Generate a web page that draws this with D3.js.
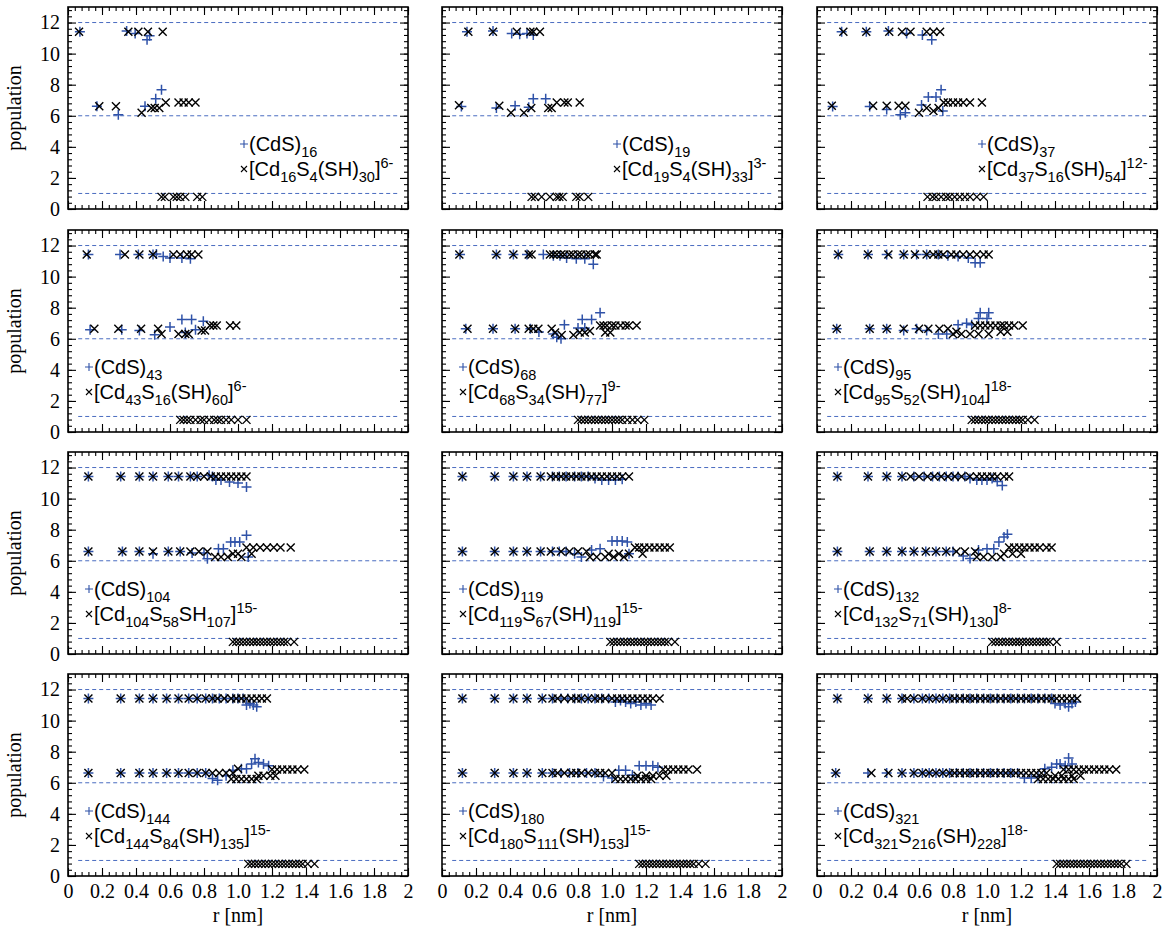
<!DOCTYPE html>
<html><head><meta charset="utf-8">
<script src="https://cdn.jsdelivr.net/npm/d3@7"></script>
<style>body{margin:0;background:#fff}</style>
</head><body>
<svg id="c" width="1170" height="933"></svg>
<script>
// ---------- data ----------
const clusterSizes = [16,19,37,43,68,95,104,119,132,144,180,321];
const ligandCd = [16,19,37,43,68,95,104,119,132,144,180,321];
const ligandS = [4,4,16,16,34,52,58,67,71,84,111,216];
const ligandSH = [30,33,54,60,77,104,107,119,130,135,153,228];
const ligandCharge = ["6-","3-","12-","6-","9-","18-","15-","15-","8-","15-","15-","18-"];
const ligandParen = [true,true,true,true,true,true,false,true,true,true,true,true];
const xTicks = [0,0.2,0.4,0.6,0.8,1.0,1.2,1.4,1.6,1.8,2];
const xTickLabels = ["0","0.2","0.4","0.6","0.8","1.0","1.2","1.4","1.6","1.8","2"];
const yTicks = [0,2,4,6,8,10,12];
const yTickLabels = ["0","2","4","6","8","10","12"];
const refLevels = [1,6,12];

// each group: [y, x1, x2, ...]
const plus16 = [[11.4,0.07],[11.45,0.345],[11.3,0.395],[10.9,0.465],[11.15,0.48],[6.62,0.17,0.453],[6.06,0.296],[7.1,0.516],[7.68,0.55]];
const cross16 = [[11.4,0.065,0.355,0.414,0.47,0.557],[6.62,0.184,0.282],[6.2,0.433],[6.5,0.49,0.51,0.537],[6.86,0.575,0.65,0.68,0.71,0.75],[0.78,0.55,0.57,0.62,0.64,0.66,0.69,0.76,0.79]];
const plus19 = [[11.4,0.147],[11.45,0.30],[11.3,0.41,0.5],[11.25,0.457],[11.2,0.537],[6.6,0.114],[6.5,0.32],[6.65,0.43],[6.55,0.51],[7.1,0.537,0.61]];
const cross19 = [[11.4,0.155,0.30,0.44,0.52,0.537,0.576],[6.67,0.1],[6.65,0.337],[6.2,0.406,0.482],[6.5,0.525,0.625,0.645],[6.86,0.675,0.72,0.74,0.81],[0.78,0.527,0.547,0.586,0.635,0.675,0.69,0.71,0.79,0.81,0.86]];
const plus37 = [[11.4,0.145,0.29],[11.45,0.42],[11.3,0.527],[11.2,0.62],[10.9,0.675],[6.6,0.092,0.31],[6.4,0.41],[6.06,0.49],[6.2,0.52],[6.7,0.615],[7.2,0.655,0.7],[7.68,0.73],[6.3,0.74]];
const cross37 = [[11.4,0.155,0.29,0.425,0.5,0.55,0.645,0.685,0.724],[6.65,0.087,0.33,0.41,0.48,0.52],[6.2,0.6],[6.5,0.645,0.715],[6.3,0.685],[6.86,0.745,0.77,0.8,0.83,0.86,0.9,0.97],[0.78,0.65,0.68,0.70,0.73,0.76,0.78,0.81,0.84,0.87,0.9,0.94,0.98]];
const plus43 = [[11.42,0.12,0.306,0.414,0.5],[11.46,0.52],[11.3,0.56],[11.2,0.6,0.67],[11.15,0.72],[6.58,0.13,0.316,0.75],[6.53,0.42],[6.26,0.51],[6.75,0.6],[7.24,0.67,0.727],[7.13,0.796],[6.4,0.69]];
const cross43 = [[11.42,0.11,0.335,0.42,0.5,0.62,0.66,0.7,0.727,0.767],[6.64,0.155,0.296,0.43,0.53],[6.3,0.55,0.65,0.69,0.71],[6.53,0.786,0.806],[6.86,0.835,0.855,0.875,0.953,0.99],[0.78,0.66,0.68,0.7,0.72,0.75,0.78,0.8,0.83,0.86,0.88,0.9,0.93,0.96,1.0,1.05]];
const plus68 = [[11.42,0.106,0.32,0.42,0.5,0.596],[11.35,0.655,0.694],[11.2,0.733],[11.15,0.79,0.84],[10.8,0.89],[6.64,0.14,0.3,0.43,0.52],[6.43,0.57],[6.3,0.655],[6.1,0.675],[6.0,0.7],[6.9,0.72],[6.7,0.8,0.84],[7.24,0.825,0.88],[7.67,0.93]];
const cross68 = [[11.42,0.102,0.32,0.42,0.51,0.527,0.635,0.655,0.675,0.7,0.72,0.75,0.77,0.8,0.82,0.85,0.87,0.9,0.91],[6.64,0.15,0.3,0.43,0.51,0.537,0.567,0.645],[6.4,0.665,0.81,0.84,0.96,0.99],[6.25,0.704,0.773],[6.5,0.87],[6.86,0.93,0.95,0.97,1.0,1.02,1.05,1.08,1.1,1.145],[0.78,0.8,0.82,0.84,0.86,0.88,0.9,0.92,0.94,0.96,0.98,1.0,1.02,1.04,1.06,1.09,1.12,1.15,1.19]];
const plus95 = [[11.42,0.125,0.3,0.41,0.51,0.586,0.645,0.714],[11.35,0.77],[11.3,0.83],[11.2,0.89],[10.9,0.93,0.96],[6.64,0.116,0.31,0.41,0.586],[6.53,0.51,0.645],[6.3,0.714,0.763],[6.9,0.83,0.91],[7.0,0.88],[7.67,0.96,1.01],[7.3,0.95,1.0]];
const cross95 = [[11.42,0.125,0.3,0.42,0.51,0.576,0.645,0.684,0.714,0.743,0.79,0.82,0.86,0.9,0.94,0.98,1.01],[6.64,0.116,0.31,0.41,0.51,0.6,0.655,0.72,0.77],[6.45,0.82,1.08,1.12],[6.3,0.8,0.85,0.9,0.95,1.01],[6.86,0.93,0.96,0.99,1.02,1.05,1.08,1.1,1.13,1.16,1.21],[0.78,0.91,0.93,0.95,0.97,0.99,1.01,1.03,1.05,1.07,1.09,1.11,1.13,1.15,1.17,1.19,1.21,1.24,1.28]];
const plus104 = [[11.42,0.12,0.31,0.42,0.5,0.59,0.65,0.72,0.76,0.85],[11.5,0.83],[11.2,0.87,0.9],[11.07,0.95],[11.0,1.0],[10.75,1.05],[6.6,0.12,0.32,0.42,0.59,0.66],[6.45,0.5],[6.5,0.73,0.8],[6.13,0.82],[6.78,0.885,0.914],[7.2,0.957,0.982,1.01],[7.64,1.05],[6.25,1.06]];
const cross104 = [[11.42,0.12,0.31,0.42,0.5,0.59,0.65,0.72,0.76,0.8,0.84,0.87,0.9,0.93,0.96,0.99,1.02,1.05],[6.6,0.12,0.32,0.42,0.5,0.59,0.66,0.72,0.77,0.82],[6.25,0.865,0.9,0.94,1.02],[6.45,0.97,1.0,1.08],[6.86,1.05,1.09,1.13,1.17,1.21,1.25,1.31],[0.78,0.97,0.99,1.01,1.03,1.05,1.07,1.09,1.11,1.13,1.15,1.17,1.19,1.21,1.23,1.25,1.27,1.29,1.33]];
const plus119 = [[11.42,0.12,0.31,0.42,0.5,0.58,0.65,0.69,0.73,0.78,0.82,0.86],[11.3,0.9],[11.2,0.94,0.98,1.02],[11.25,1.06],[6.6,0.12,0.31,0.42,0.5,0.58,0.65,0.69,0.73],[6.45,0.78,1.1],[6.25,0.82],[6.7,0.88],[6.78,0.93],[7.27,1.0,1.03,1.06],[7.2,1.09]];
const cross119 = [[11.42,0.12,0.31,0.42,0.5,0.58,0.64,0.67,0.7,0.73,0.76,0.79,0.82,0.85,0.88,0.91,0.94,0.97,1.0,1.03,1.06,1.1],[6.6,0.12,0.31,0.42,0.5,0.58,0.64,0.7,0.75,0.8,0.85],[6.25,0.87,0.91,0.96,1.01,1.07],[6.45,0.98,1.04,1.1,1.18],[6.86,1.135,1.16,1.19,1.22,1.25,1.28,1.31,1.34],[0.78,0.99,1.01,1.03,1.05,1.07,1.09,1.11,1.13,1.15,1.17,1.19,1.21,1.23,1.25,1.27,1.29,1.31,1.33,1.37]];
const plus132 = [[11.42,0.12,0.3,0.41,0.5,0.57,0.63,0.68,0.72,0.76,0.8,0.83,0.87],[11.3,0.9,1.03],[11.2,0.94,0.97,1.0],[11.1,1.06],[10.85,1.09],[6.6,0.12,0.31,0.41,0.5,0.57,0.64,0.7,0.76,0.8],[6.3,0.86],[6.14,0.9],[6.7,0.95],[6.78,1.0,1.04],[7.2,1.07],[7.53,1.1],[7.7,1.12]];
const cross132 = [[11.42,0.12,0.3,0.41,0.5,0.55,0.6,0.65,0.69,0.73,0.77,0.81,0.85,0.9,0.94,0.97,1.0,1.03,1.06,1.1,1.13],[6.6,0.12,0.31,0.41,0.5,0.57,0.64,0.7,0.76,0.82,0.87,0.93],[6.25,0.94,0.98,1.03,1.08],[6.45,1.1,1.15,1.2],[6.86,1.13,1.16,1.19,1.22,1.25,1.28,1.31,1.35,1.38],[0.78,1.03,1.05,1.07,1.09,1.11,1.13,1.15,1.17,1.19,1.21,1.23,1.25,1.27,1.29,1.31,1.33,1.35,1.37,1.41]];
const plus144 = [[11.42,0.12,0.31,0.42,0.5,0.58,0.65,0.71,0.76,0.81,0.85,0.89,0.93,0.97,1.0,1.03],[11.0,1.05,1.09],[11.1,1.07],[10.9,1.11],[6.63,0.12,0.31,0.42,0.5,0.58,0.65,0.71,0.76,0.81],[6.27,0.85],[6.16,0.88],[6.45,0.93],[6.8,0.97],[6.9,1.02,1.05],[7.2,1.08,1.15],[7.55,1.1],[7.3,1.12],[7.1,1.18]];
const cross144 = [[11.42,0.12,0.31,0.42,0.5,0.58,0.65,0.71,0.76,0.81,0.85,0.88,0.92,0.96,0.99,1.02,1.05,1.08,1.11,1.14,1.17],[6.63,0.12,0.31,0.42,0.5,0.58,0.65,0.71,0.76,0.81,0.85,0.89,0.93,0.97],[6.9,1.0],[6.25,0.96,0.99,1.02,1.05,1.08,1.11],[6.45,1.12,1.15,1.19,1.22],[6.86,1.2,1.23,1.26,1.29,1.32,1.35,1.39],[0.78,1.06,1.08,1.1,1.12,1.14,1.16,1.18,1.2,1.22,1.24,1.26,1.28,1.3,1.32,1.34,1.36,1.38,1.41,1.45]];
const plus180 = [[11.42,0.12,0.31,0.42,0.5,0.59,0.65,0.7,0.74,0.78,0.82,0.86,0.9,0.94,0.98],[11.2,1.02,1.08,1.14],[11.3,1.05],[11.1,1.11,1.2],[11.0,1.17,1.23],[6.63,0.12,0.31,0.42,0.5,0.59,0.65,0.7,0.75,0.8,0.85,0.9],[6.4,0.95],[6.3,1.0],[6.8,1.04,1.08],[6.5,1.12],[7.1,1.16,1.2,1.24],[7.0,1.27]];
const cross180 = [[11.42,0.12,0.31,0.42,0.5,0.59,0.65,0.68,0.72,0.76,0.79,0.82,0.86,0.9,0.93,0.96,1.0,1.03,1.06,1.09,1.12,1.15,1.18,1.21,1.24,1.28],[6.63,0.12,0.31,0.42,0.5,0.59,0.65,0.68,0.72,0.76,0.79,0.82,0.86,0.9,0.93,0.96,1.0],[6.25,1.02,1.05,1.08,1.11,1.14,1.17,1.2,1.23],[6.45,1.15,1.2,1.24,1.28,1.32],[6.86,1.3,1.33,1.36,1.39,1.42,1.45,1.5],[0.78,1.16,1.18,1.2,1.22,1.24,1.26,1.28,1.3,1.32,1.34,1.36,1.38,1.4,1.42,1.44,1.46,1.48,1.51,1.55]];
const plus321 = [[11.42,0.12,0.3,0.41,0.5,0.57,0.62,0.66,0.7,0.74,0.78,0.82,0.86,0.9,0.94,0.98,1.02,1.06,1.1,1.14,1.18,1.22,1.26,1.3,1.34,1.38],[11.1,1.4,1.46,1.5],[11.0,1.43],[10.9,1.48],[11.2,1.52],[6.63,0.11,0.3,0.41,0.5,0.57,0.62,0.66,0.7,0.74,0.78,0.82,0.86,0.9,0.94,0.98,1.02,1.06,1.1,1.14,1.18],[6.3,1.22,1.26],[6.4,1.3],[6.9,1.34],[7.0,1.38],[7.2,1.41,1.43,1.5],[7.1,1.46],[7.6,1.48]];
const cross321 = [[11.42,0.12,0.3,0.41,0.5,0.53,0.57,0.62,0.66,0.7,0.74,0.78,0.81,0.84,0.87,0.9,0.93,0.96,0.99,1.02,1.05,1.08,1.11,1.14,1.17,1.2,1.23,1.26,1.29,1.32,1.35,1.38,1.41,1.44,1.47,1.5,1.53],[6.63,0.11,0.32,0.42,0.5,0.57,0.62,0.66,0.7,0.74,0.78,0.81,0.84,0.87,0.9,0.93,0.96,0.99,1.02,1.05,1.08,1.11,1.14,1.17,1.2,1.23,1.26,1.29,1.32,1.35],[6.25,1.3,1.33,1.36,1.39,1.42,1.45,1.48,1.51],[6.45,1.4,1.44,1.5,1.55],[6.86,1.45,1.48,1.51,1.54,1.57,1.6,1.63,1.66,1.69,1.72,1.76],[0.78,1.41,1.43,1.45,1.47,1.49,1.51,1.53,1.55,1.57,1.59,1.61,1.63,1.65,1.67,1.69,1.71,1.73,1.75,1.77,1.79,1.82]];

const plusSeries = [plus16,plus19,plus37,plus43,plus68,plus95,plus104,plus119,plus132,plus144,plus180,plus321];
const crossSeries = [cross16,cross19,cross37,cross43,cross68,cross95,cross104,cross119,cross132,cross144,cross180,cross321];

// ---------- layout ----------
const colLeft = [68,442,817], rowTop = [7,230,452,674];
const pw = 340, ph = 202;
const legendX = [176,175,165,21,21,21,21,21,21,21,21,21];
const blue = "#2f52a8", dashBlue = "#4a6cc0";
const serif = "'Liberation Serif','Times New Roman',serif";
const sans = "'Liberation Sans',Arial,sans-serif";

const svg = d3.select("#c");
const x = d3.scaleLinear().domain([0,2]).range([0,pw]);
const y = d3.scaleLinear().domain([0,13]).range([ph,0]);
const xMinor = d3.range(0,2.0001,0.04);
const yMinor = d3.range(0,13.0001,0.4);

function flatten(groups){ const out=[]; groups.forEach(g=>{ for(let i=1;i<g.length;i++) out.push([g[i],g[0]]); }); return out; }

function addRuns(t, runs){
  let shift = 0;
  runs.forEach(([s,type])=>{
    const target = type==="sub"?6:(type==="sup"?-8:0);
    const sp = t.append("tspan").attr("dy", target-shift).text(s);
    sp.attr("font-size", type==="n"?20:14.5);
    shift = target;
  });
}

for(let p=0;p<12;p++){
  const r = Math.floor(p/3), c = p%3;
  const g = svg.append("g").attr("transform",`translate(${colLeft[c]},${rowTop[r]})`);

  g.selectAll("line.ref").data(refLevels).join("line")
    .attr("x1",x(0.06)).attr("x2",x(1.94))
    .attr("y1",d=>y(d)).attr("y2",d=>y(d))
    .attr("stroke",dashBlue).attr("stroke-width",1).attr("stroke-dasharray","4,3");

  g.selectAll("path.plus").data(flatten(plusSeries[p])).join("path")
    .attr("transform",d=>`translate(${x(d[0])},${y(d[1])})`)
    .attr("d","M-5,0H5M0,-5V5").attr("stroke",blue).attr("stroke-width",1.5).attr("fill","none");
  g.selectAll("path.cross").data(flatten(crossSeries[p])).join("path")
    .attr("transform",d=>`translate(${x(d[0])},${y(d[1])})`)
    .attr("d","M-4,-4L4,4M-4,4L4,-4").attr("stroke","#000").attr("stroke-width",1.4).attr("fill","none");

  // axes
  const fmtX = r===3 ? ((d,i)=>xTickLabels[i]) : (()=> "");
  const fmtY = c===0 ? ((d,i)=>yTickLabels[i]) : (()=> "");
  const axes = [
    [d3.axisBottom(x).tickValues(xTicks).tickSizeInner(-8).tickSizeOuter(0).tickPadding(8).tickFormat(fmtX), `translate(0,${ph})`],
    [d3.axisBottom(x).tickValues(xMinor).tickSizeInner(-4).tickSizeOuter(0).tickFormat(()=>""), `translate(0,${ph})`],
    [d3.axisTop(x).tickValues(xTicks).tickSizeInner(-8).tickSizeOuter(0).tickFormat(()=>""), `translate(0,0)`],
    [d3.axisTop(x).tickValues(xMinor).tickSizeInner(-4).tickSizeOuter(0).tickFormat(()=>""), `translate(0,0)`],
    [d3.axisLeft(y).tickValues(yTicks).tickSizeInner(-8).tickSizeOuter(0).tickPadding(8).tickFormat(fmtY), `translate(0,0)`],
    [d3.axisLeft(y).tickValues(yMinor).tickSizeInner(-4).tickSizeOuter(0).tickFormat(()=>""), `translate(0,0)`],
    [d3.axisRight(y).tickValues(yTicks).tickSizeInner(-8).tickSizeOuter(0).tickFormat(()=>""), `translate(${pw},0)`],
    [d3.axisRight(y).tickValues(yMinor).tickSizeInner(-4).tickSizeOuter(0).tickFormat(()=>""), `translate(${pw},0)`]
  ];
  axes.forEach(([ax,tr])=>{
    const a = g.append("g").attr("transform",tr).call(ax);
    a.select(".domain").remove();
    a.selectAll("line").attr("stroke","#000").attr("stroke-width",1.1);
    a.selectAll("text").attr("font-family",serif).attr("font-size",20).attr("fill","#000");
  });
  g.append("rect").attr("width",pw).attr("height",ph).attr("fill","none").attr("stroke","#000").attr("stroke-width",1.6);

  // legend
  const lx = legendX[p];
  const b1 = 144, b2 = 169;
  g.append("path").attr("transform",`translate(${lx},${b1-7})`).attr("d","M-4,0H4M0,-4V4").attr("stroke",blue).attr("stroke-width",1.1).attr("fill","none");
  g.append("path").attr("transform",`translate(${lx},${b2-7})`).attr("d","M-3,-3L3,3M-3,3L3,-3").attr("stroke","#000").attr("stroke-width",1.1).attr("fill","none");
  const t1 = g.append("text").attr("x",lx+5).attr("y",b1).attr("font-family",sans).attr("fill","#000");
  addRuns(t1, [["(CdS)","n"],[String(clusterSizes[p]),"sub"]]);
  const t2 = g.append("text").attr("x",lx+5).attr("y",b2).attr("font-family",sans).attr("fill","#000");
  addRuns(t2, [["[Cd","n"],[String(ligandCd[p]),"sub"],["S","n"],[String(ligandS[p]),"sub"],[ligandParen[p]?"(SH)":"SH","n"],[String(ligandSH[p]),"sub"],["]","n"],[ligandCharge[p],"sup"]]);

  if(c===0){
    g.append("text").attr("transform",`translate(-47,${ph/2}) rotate(-90)`).attr("text-anchor","middle")
      .attr("font-family",serif).attr("font-size",20).text("population");
  }
  if(r===3){
    g.append("text").attr("x",pw/2).attr("y",ph+46).attr("text-anchor","middle")
      .attr("font-family",serif).attr("font-size",20).text("r [nm]");
  }
}
</script>
</body></html>
